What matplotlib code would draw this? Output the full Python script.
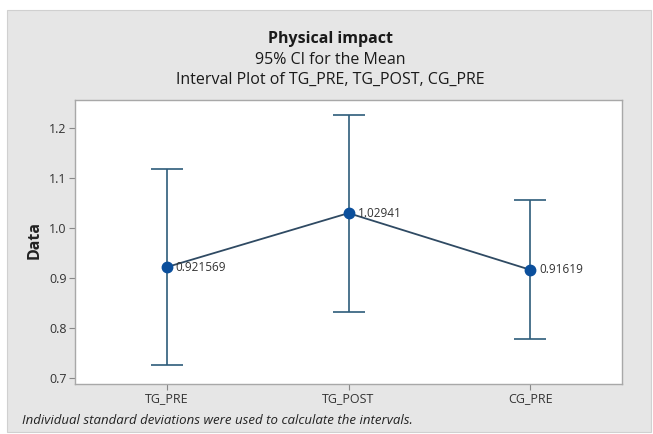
import matplotlib
matplotlib.use("Agg")
import matplotlib.pyplot as plt
from matplotlib.patches import Rectangle

# Interval plot data: group means and 95% CI bounds
groups = ["TG_PRE", "TG_POST", "CG_PRE"]
means = [0.921569, 1.02941, 0.91619]
ci_lower = [0.7255, 0.8325, 0.7775]
ci_upper = [1.1176, 1.2263, 1.0549]
mean_labels = ["0.921569", "1.02941", "0.91619"]
y_ticks = [0.7, 0.8, 0.9, 1.0, 1.1, 1.2]

W, H = 653, 434
fig = plt.figure(figsize=(W / 100, H / 100), dpi=100)
fig.patch.set_facecolor("white")

# Gray graph region behind the data region
fig.patches.append(Rectangle((7 / W, 1 - 432 / H), (651 - 7) / W, (432 - 10) / H,
                             transform=fig.transFigure, facecolor="#E6E6E6",
                             edgecolor="#D0D0D0", linewidth=0.8, zorder=-5))

ax = fig.add_axes([75 / W, 1 - 384 / H, (622 - 75) / W, (384 - 99.5) / H])
ax.set_zorder(2)
ax.set_facecolor("white")
for s in ax.spines.values():
    s.set_color("#A8A8A8")
    s.set_linewidth(1.0)

x = list(range(len(groups)))
err_lo = [m - l for m, l in zip(means, ci_lower)]
err_hi = [u - m for m, u in zip(means, ci_upper)]

ax.errorbar(x, means, yerr=[err_lo, err_hi], fmt="none", ecolor="#2E5C7A",
            elinewidth=1.2, capsize=11.5, capthick=1.2, zorder=2)
ax.plot(x, means, color="#2F4A63", linewidth=1.3, zorder=3)
ax.plot(x, means, linestyle="none", marker="o", markersize=7.5,
        color="#0B4F9C", zorder=4)

for xi, m, lab in zip(x, means, mean_labels):
    ax.annotate(lab, (xi, m), xytext=(6.5, 0), textcoords="offset points",
                ha="left", va="center", fontsize=8.5, color="#333333",
                family="Open Sans", zorder=5)

ax.set_xlim(-0.505, 2.505)
ax.set_ylim(0.688, 1.2564)
ax.set_xticks(x)
ax.set_xticklabels(groups, family="Open Sans", fontsize=9, color="#333333")
ax.set_yticks(y_ticks)
ax.set_yticklabels([f"{v:.1f}" for v in y_ticks], family="Open Sans",
                   fontsize=9, color="#333333")
ax.tick_params(axis="both", colors="#888888", length=4, width=0.8,
               labelcolor="#333333", pad=2)

fig.text(35 / W, 1 - 240 / H, "Data", rotation=90, ha="center", va="center",
         fontsize=11.5, fontweight="bold", family="Open Sans", color="#222222")

fig.text(330 / W, 1 - 39 / H, "Physical impact", ha="center", va="center",
         fontsize=11.5, fontweight="bold", family="Open Sans", color="#1A1A1A")
fig.text(330 / W, 1 - 60 / H, "95% CI for the Mean", ha="center", va="center",
         fontsize=11.5, family="Open Sans", color="#1A1A1A")
fig.text(330 / W, 1 - 80 / H, "Interval Plot of TG_PRE, TG_POST, CG_PRE",
         ha="center", va="center", fontsize=11.5, family="Open Sans", color="#1A1A1A")

fig.text(22 / W, 1 - 421 / H,
         "Individual standard deviations were used to calculate the intervals.",
         ha="left", va="center", fontsize=9.5, style="italic",
         family="Open Sans", color="#222222")

fig.savefig("out.png", dpi=100)
